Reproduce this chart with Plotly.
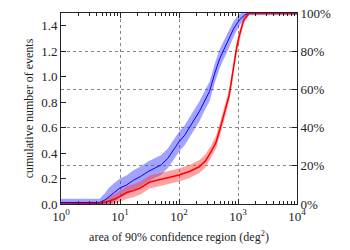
import plotly.graph_objects as go

# ---- data ----
blue_area = [1.0, 1.3, 4.5, 5.5, 6.5, 8, 10, 13, 17, 22, 30, 40, 50, 65, 80, 100, 125, 150,
             180, 220, 270, 330, 400, 480, 560, 700, 850, 1050, 1300, 1550, 10000]
blue_frac = [0.008, 0.008, 0.008, 0.02, 0.04, 0.06, 0.084, 0.10, 0.125, 0.143, 0.17, 0.19,
             0.205, 0.24, 0.28, 0.326, 0.36, 0.397, 0.44, 0.483, 0.54, 0.59, 0.68, 0.754,
             0.80, 0.86, 0.92, 0.963, 0.99, 1.0, 1.0]
blue_err = [0.02, 0.02, 0.02, 0.035, 0.045, 0.05, 0.05, 0.05, 0.052, 0.052, 0.052, 0.052,
            0.052, 0.052, 0.052, 0.052, 0.052, 0.052, 0.052, 0.052, 0.052, 0.052, 0.05, 0.05,
            0.048, 0.045, 0.04, 0.03, 0.02, 0.012, 0.012]

red_area = [1.0, 4.5, 6, 8, 10, 13, 17, 22, 32, 48, 70, 100, 150, 220, 280, 340, 420, 490,
            560, 630, 710, 780, 850, 950, 1050, 1250, 1550, 10000]
red_frac = [0.0, 0.002, 0.012, 0.025, 0.04, 0.06, 0.07, 0.084, 0.115, 0.126, 0.14, 0.152,
            0.17, 0.195, 0.225, 0.267, 0.32, 0.387, 0.45, 0.51, 0.57, 0.65, 0.73, 0.82,
            0.88, 0.963, 1.0, 1.0]
red_err = [0.008, 0.01, 0.018, 0.025, 0.03, 0.034, 0.034, 0.034, 0.034, 0.034, 0.034, 0.034,
           0.034, 0.034, 0.034, 0.034, 0.034, 0.034, 0.034, 0.034, 0.034, 0.034, 0.034, 0.03,
           0.026, 0.018, 0.01, 0.01]

x_tickvals = [1, 10, 100, 1000, 10000]
x_ticktext = ["10<sup>0</sup>", "10<sup>1</sup>", "10<sup>2</sup>", "10<sup>3</sup>", "10<sup>4</sup>"]
left_ticks = [0.0, 0.2, 0.4, 0.6, 0.8, 1.0, 1.2, 1.4]
right_ticks = [0.0, 0.2, 0.4, 0.6, 0.8, 1.0]
right_ticktext = ["0%", "20%", "40%", "60%", "80%", "100%"]
minor_vals = [m * 10 ** d for d in range(4) for m in range(2, 10)]

FONT = "Liberation Serif, Times New Roman, serif"


def band(xs, ys, es, fillcolor):
    lo = [max(0.0, y - e) for y, e in zip(ys, es)]
    hi = [min(1.02, y + e) for y, e in zip(ys, es)]
    return go.Scatter(x=list(xs) + list(xs)[::-1], y=hi + lo[::-1], fill="toself",
                      fillcolor=fillcolor, line=dict(width=0), mode="lines",
                      yaxis="y2", hoverinfo="skip", showlegend=False)


fig = go.Figure()
fig.add_trace(band(blue_area, blue_frac, blue_err, "rgba(60,60,255,0.48)"))
fig.add_trace(band(red_area, red_frac, red_err, "rgba(255,60,60,0.48)"))
fig.add_trace(go.Scatter(x=blue_area, y=blue_frac, mode="lines", yaxis="y2",
                         line=dict(color="#0000ff", width=1), showlegend=False))
fig.add_trace(go.Scatter(x=red_area, y=red_frac, mode="lines", yaxis="y2",
                         line=dict(color="#ff0000", width=1.5), showlegend=False))
fig.add_trace(go.Scatter(x=[1], y=[0], mode="markers", marker=dict(opacity=0),
                         showlegend=False, hoverinfo="skip"))

fig.update_layout(
    width=350, height=250,
    margin=dict(l=61, r=53, t=13, b=46, autoexpand=False),
    paper_bgcolor="white", plot_bgcolor="white",
    font=dict(family=FONT, size=12, color="#222"),
    xaxis=dict(type="log", range=[0, 4], tickvals=x_tickvals, ticktext=x_ticktext,
               ticks="inside", ticklen=5, tickcolor="#222", showline=True, linecolor="#222",
               linewidth=1, mirror="ticks", showgrid=True, gridcolor="#888", griddash="dot",
               gridwidth=1, zeroline=False, automargin=False,
               minor=dict(tickvals=minor_vals, ticks="inside", ticklen=3, tickcolor="#222",
                          showgrid=False),
               title=dict(text="area of 90% confidence region (deg<sup>2</sup>)", standoff=10,
                          font=dict(family=FONT, size=12)),
               tickfont=dict(family=FONT, size=13)),
    yaxis=dict(range=[0, 1.5], tickvals=left_ticks, tickformat=".1f", ticks="inside",
               ticklen=5, tickcolor="#222", showline=True, linecolor="#222", linewidth=1,
               showgrid=False, zeroline=False, automargin=False,
               tickfont=dict(family=FONT, size=13),
               title=dict(text="cumulative number of events", standoff=4,
                          font=dict(family=FONT, size=12))),
    yaxis2=dict(range=[0, 1.0], overlaying="y", side="right", tickvals=right_ticks,
                ticktext=right_ticktext, ticks="inside", ticklen=5, tickcolor="#222",
                showline=True, linecolor="#222", linewidth=1, showgrid=True, gridcolor="#888",
                griddash="dot", gridwidth=1, zeroline=False, automargin=False,
                tickfont=dict(family=FONT, size=13)),
)

fig.write_html("out.html", config={"displayModeBar": False},
               post_script="document.body.style.margin='0';")
